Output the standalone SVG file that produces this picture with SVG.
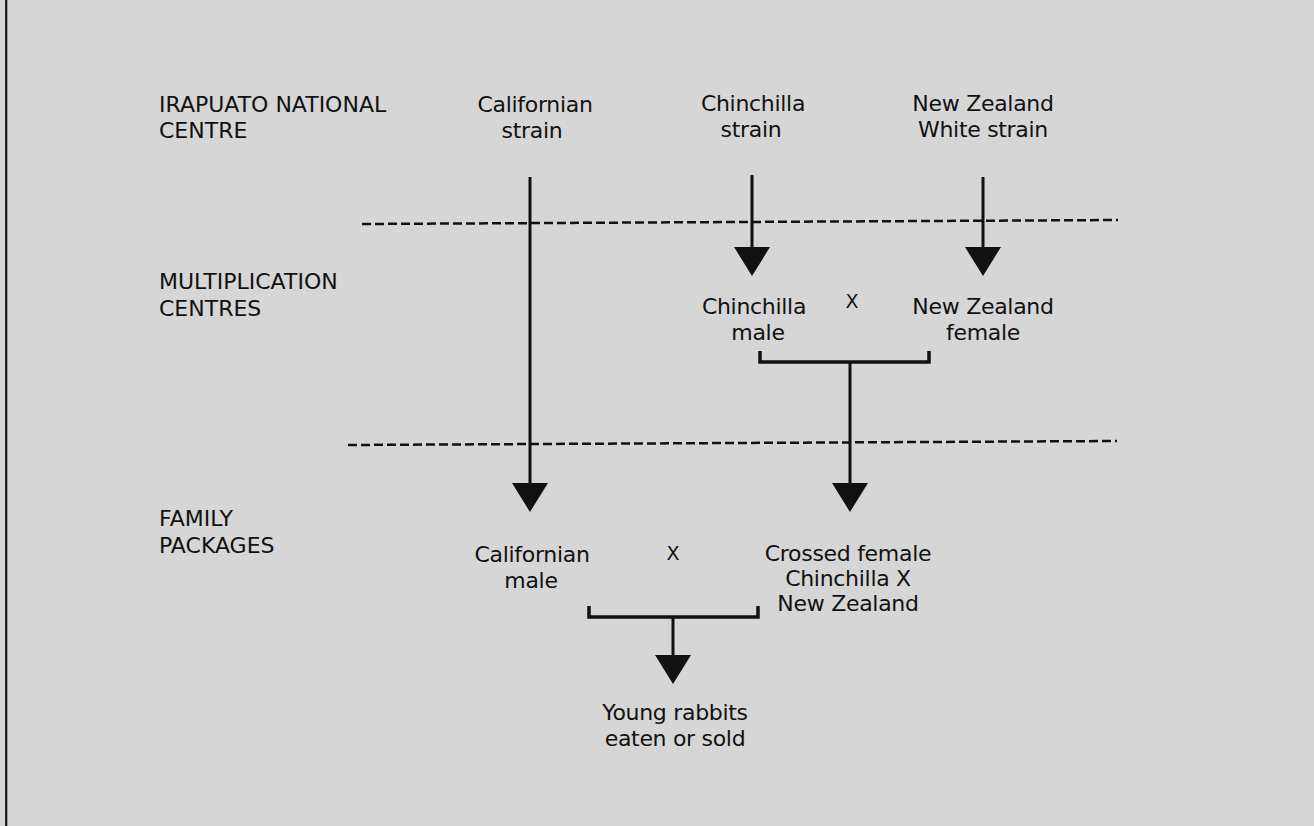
<svg xmlns="http://www.w3.org/2000/svg" width="1314" height="826" viewBox="0 0 1314 826">
<defs>
<style>
text{font-family:"DejaVu Sans","Liberation Sans",sans-serif;font-size:22px;fill:#111}
.lbl{letter-spacing:-0.3px}
.cap{letter-spacing:0px}
.c{text-anchor:middle}
.x{font-size:19px}
.ln{stroke:#111;stroke-width:3;fill:none}
.br{stroke:#111;stroke-width:3.5;fill:none}
.dash{stroke:#111;stroke-width:2.5;stroke-dasharray:9 4;fill:none}
.head{fill:#111}
</style>
<path id="ah" d="M-18,0 L18,0 L0,29 Z"/>
</defs>
<rect x="0" y="0" width="1314" height="826" fill="#d6d6d6"/>
<line x1="6.2" y1="0" x2="6.2" y2="826" stroke="#111" stroke-width="2.2"/>

<g id="row-labels">
<text x="159" y="112" class="cap">IRAPUATO NATIONAL</text>
<text x="159" y="138" class="cap">CENTRE</text>
<text x="159" y="289" class="cap">MULTIPLICATION</text>
<text x="159" y="316" class="cap">CENTRES</text>
<text x="159" y="526" class="cap">FAMILY</text>
<text x="159" y="553" class="cap">PACKAGES</text>
</g>

<g id="californian-strain"><text class="c lbl" x="535" y="112">Californian</text><text class="c lbl" x="532" y="138">strain</text></g>
<g id="chinchilla-strain"><text class="c lbl" x="753" y="111">Chinchilla</text><text class="c lbl" x="751" y="137">strain</text></g>
<g id="nz-white-strain"><text class="c lbl" x="983" y="111">New Zealand</text><text class="c lbl" x="983" y="137">White strain</text></g>

<g id="chinchilla-male"><text class="c lbl" x="754" y="314">Chinchilla</text><text class="c lbl" x="758" y="340">male</text></g>
<g id="cross-1"><text class="c x" x="852" y="308">X</text></g>
<g id="nz-female"><text class="c lbl" x="983" y="314">New Zealand</text><text class="c lbl" x="983" y="340">female</text></g>

<g id="californian-male"><text class="c lbl" x="532" y="562">Californian</text><text class="c lbl" x="531" y="588">male</text></g>
<g id="cross-2"><text class="c x" x="673" y="560">X</text></g>
<g id="crossed-female"><text class="c lbl" x="848" y="561">Crossed female</text><text class="c lbl" x="848" y="586">Chinchilla X</text><text class="c lbl" x="848" y="611">New Zealand</text></g>

<g id="young-rabbits"><text class="c lbl" x="675" y="720">Young rabbits</text><text class="c lbl" x="675" y="746">eaten or sold</text></g>

<g id="connectors">
<line class="dash" x1="362" y1="224" x2="1118" y2="220"/>
<line class="dash" x1="348" y1="445" x2="1117" y2="441"/>

<line class="ln" x1="530" y1="177" x2="530" y2="485"/>
<use href="#ah" class="head" x="530" y="483"/>

<line class="ln" x1="752" y1="175" x2="752" y2="249"/>
<use href="#ah" class="head" x="752" y="247"/>

<line class="ln" x1="983" y1="177" x2="983" y2="249"/>
<use href="#ah" class="head" x="983" y="247"/>

<path class="br" d="M760,351 L760,362 L929,362 L929,351"/>
<line class="ln" x1="850" y1="362" x2="850" y2="485"/>
<use href="#ah" class="head" x="850" y="483"/>

<path class="br" d="M589,606 L589,617 L758,617 L758,606"/>
<line class="ln" x1="673" y1="617" x2="673" y2="657"/>
<use href="#ah" class="head" x="673" y="655"/>
</g>
</svg>
